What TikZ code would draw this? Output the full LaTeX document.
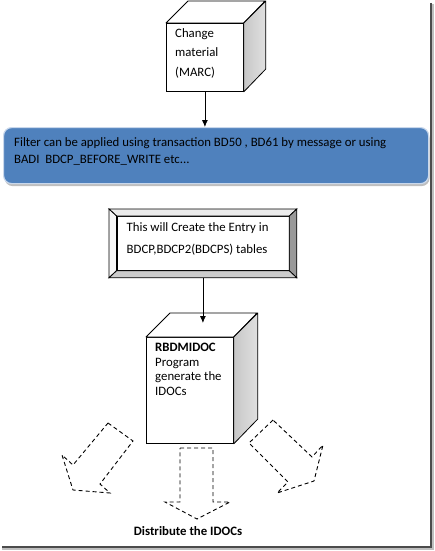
\documentclass[tikz,border=0pt]{standalone}
\usepackage{fontspec}
\setmainfont{Carlito}
\usepackage{tikz}
\usetikzlibrary{arrows.meta}
\usetikzlibrary{calc}
\usetikzlibrary{shadows}
\usetikzlibrary{positioning}
\definecolor{boxblue}{HTML}{4F81BD}
\definecolor{boxrim}{HTML}{C9D8EC}

\begin{document}
\begin{tikzpicture}[
    x=1pt, y=-1pt,
    every node/.style={color=black, font=\fontsize{12.8}{17}\selectfont},
    face/.style={draw, line width=0.8pt, fill=white, inner sep=0pt},
    top face/.style={draw, line width=0.8pt, fill=white, line join=round},
    side face/.style={draw, line width=0.8pt, left color=black!22, right color=black!12, line join=round},
    bevel/.style={draw, line width=0.8pt, line join=miter},
    blue box/.style={draw=boxrim, line width=1.2pt, fill=boxblue, rounded corners=8pt, inner sep=0pt,
        drop shadow={shadow xshift=1pt, shadow yshift=-2.5pt, fill=black!50, opacity=0.5}},
    flow line/.style={line width=0.8pt, -{Latex[length=7pt,width=6pt]}},
    dashed arrow/.style={line width=0.9pt, dash pattern=on 4pt off 3pt, line join=miter},
    label text/.style={inner sep=0pt, align=left, anchor=north west}
    ]

    \useasboundingbox (0,0) rectangle (435,551);
    % page shadow
    \draw[black!25, line width=3pt] (432.5,4) -- (432.5,548.5) -- (2,548.5);
    \draw[black!70, line width=1.4pt] (431,3) -- (431,547) -- (2,547);

    % cube: change material
    \node[face, minimum width=77pt, minimum height=68pt, anchor=north west] (marc) at (166,23) {};
    \draw[top face] (marc.north west) -- ++(22,-22) -- ++(77,0) -- (marc.north east) -- cycle;
    \draw[side face] (marc.north east) -- ++(22,-22) -- ++(0,68) -- (marc.south east) -- cycle;
    \node[label text, font=\fontsize{12.8}{19.5}\selectfont] (marctext) at ([shift={(9,5)}]marc.north west)
        {Change\\material\\(MARC)};

    % filter box
    \node[blue box, minimum width=425pt, minimum height=56pt, anchor=north west] (filter) at (3,127) {};
    \node[label text] (filtertext) at (14,137)
        {Filter can be applied using transaction BD50 , BD61 by message or using\\BADI\ \ BDCP\_BEFORE\_WRITE etc...};
    \draw[flow line] (marc.south) -- (marc.south |- filter.north);

    % bevel box: entry in BDCP
    \node[face, minimum width=187pt, minimum height=68pt, anchor=north west] (entry) at (109,209) {};
    \node[face, minimum width=172pt, minimum height=54pt] (entryface) at (entry.center) {};
    \draw[bevel, fill=black!8] (entry.north west) -- (entry.north east) -- (entryface.north east) -- (entryface.north west) -- cycle;
    \draw[bevel, fill=black!3] (entry.north west) -- (entryface.north west) -- (entryface.south west) -- (entry.south west) -- cycle;
    \draw[bevel, fill=black!40] (entry.north east) -- (entry.south east) -- (entryface.south east) -- (entryface.north east) -- cycle;
    \draw[bevel, fill=black!20] (entry.south west) -- (entryface.south west) -- (entryface.south east) -- (entry.south east) -- cycle;
    \node[label text, font=\fontsize{12.8}{22}\selectfont] (entrytext) at ([shift={(10,6)}]entryface.north west)
        {This will Create the Entry in\\BDCP,BDCP2(BDCPS) tables};

    % cube: RBDMIDOC
    \node[face, minimum width=87pt, minimum height=106pt, anchor=north west] (idoc) at (146,337) {};
    \draw[top face] (idoc.north west) -- ++(24,-24) -- ++(87,0) -- (idoc.north east) -- cycle;
    \draw[side face] (idoc.north east) -- ++(24,-24) -- ++(0,106) -- (idoc.south east) -- cycle;
    \node[label text, font=\fontsize{12.8}{14.6}\selectfont] (idoctext) at ([shift={(9,6)}]idoc.north west)
        {\textbf{RBDMIDOC}\\Program\\generate the\\IDOCs};
    \coordinate (idoctop) at ([yshift=14pt]idoc.north);
    \draw[flow line] (entry.south) -- (entry.south |- idoctop);

    % distribute arrows
    \draw[dashed arrow] (108,423) -- (133,441) -- (100,484) -- (110,493) -- (73,490) -- (62,455) -- (73,465) -- cycle;
    \draw[dashed arrow] (180,448) -- (213,448) -- (213,502) -- (230,502) -- (197,519) -- (165,502) -- (180,502) -- cycle;
    \draw[dashed arrow] (273,420) -- (249,443) -- (288,482) -- (277,493) -- (314,481) -- (323,445) -- (312,457) -- cycle;
    \node[font=\bfseries\fontsize{12.8}{17}\selectfont] (distribute) at (188,531) {Distribute the IDOCs};
\end{tikzpicture}
\end{document}
